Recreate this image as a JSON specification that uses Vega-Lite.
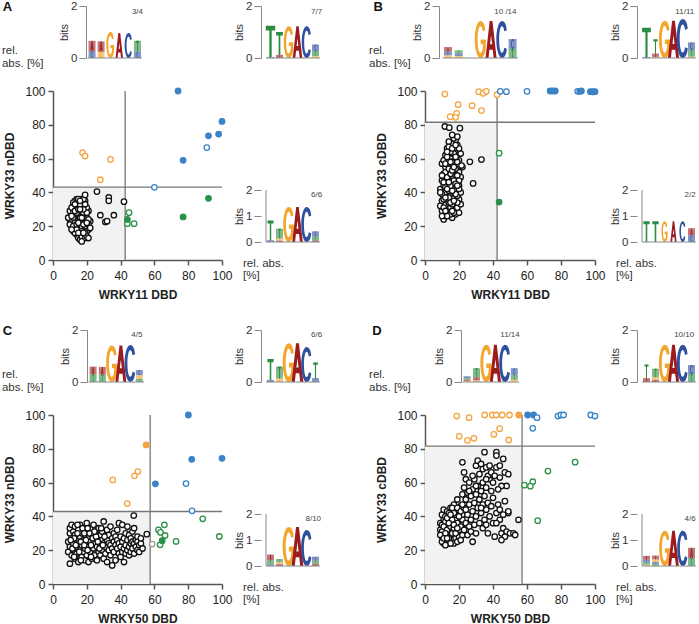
{
"$schema":"https://vega.github.io/schema/vega-lite/v6.json",
"padding":{"left":1,"top":0,"right":0,"bottom":0},
"columns":7,
"spacing":{"row":33,"column":0},
"bounds":"flush",
"align":"each",
"config":{"font":"Liberation Sans","view":{"stroke":null},
 "axis":{"grid":false,"labelFlush":false,"labelOverlap":false,"labelBound":false,"tickSize":5,"labelPadding":3,"domainColor":"#555","domainWidth":1.5,"tickColor":"#555","tickWidth":1.5,"labelFontSize":12,"labelColor":"#222","titleFontSize":12,"titleFontWeight":"bold","titleColor":"#222","titlePadding":8}},
"datasets":{
"LA1":[{"p":1,"n":"A","b":0.4},{"p":1,"n":"C","b":0.26},{"p":2,"n":"A","b":0.4},{"p":2,"n":"G","b":0.24},{"p":3,"n":"G","b":1.0},{"p":4,"n":"A","b":0.96},{"p":5,"n":"C","b":0.96},{"p":6,"n":"T","b":0.42},{"p":6,"n":"C","b":0.24}],
"LA2":[{"p":1,"n":"T","b":1.2},{"p":1,"n":"C","b":0.04},{"p":2,"n":"T","b":0.88},{"p":2,"n":"A","b":0.12},{"p":3,"n":"G","b":1.22},{"p":4,"n":"A","b":1.22},{"p":5,"n":"C","b":1.22},{"p":6,"n":"C","b":0.25},{"p":6,"n":"T","b":0.2},{"p":6,"n":"G","b":0.07}],
"LA3":[{"p":1,"n":"T","b":0.76},{"p":1,"n":"C","b":0.07},{"p":2,"n":"T","b":0.38},{"p":2,"n":"G","b":0.08},{"p":2,"n":"A","b":0.05},{"p":3,"n":"G","b":1.35},{"p":4,"n":"A","b":1.35},{"p":5,"n":"C","b":1.35},{"p":6,"n":"C","b":0.2},{"p":6,"n":"T","b":0.15},{"p":6,"n":"A","b":0.06}],
"LB1":[{"p":1,"n":"A","b":0.18},{"p":1,"n":"C","b":0.14},{"p":1,"n":"G","b":0.1},{"p":2,"n":"T","b":0.12},{"p":2,"n":"C","b":0.1},{"p":2,"n":"G","b":0.08},{"p":4,"n":"G","b":1.42},{"p":5,"n":"A","b":1.42},{"p":6,"n":"C","b":1.42},{"p":7,"n":"C","b":0.38},{"p":7,"n":"T","b":0.35}],
"LB2":[{"p":1,"n":"T","b":1.12},{"p":1,"n":"C","b":0.04},{"p":2,"n":"T","b":0.55},{"p":2,"n":"A","b":0.13},{"p":2,"n":"G","b":0.04},{"p":3,"n":"G","b":1.43},{"p":4,"n":"A","b":1.43},{"p":5,"n":"C","b":1.5},{"p":6,"n":"C","b":0.3},{"p":6,"n":"T","b":0.25},{"p":6,"n":"G","b":0.05}],
"LB3":[{"p":1,"n":"T","b":0.8},{"p":2,"n":"T","b":0.8},{"p":3,"n":"G","b":0.8},{"p":4,"n":"A","b":0.8},{"p":5,"n":"C","b":0.8},{"p":6,"n":"A","b":0.27},{"p":6,"n":"C","b":0.26}],
"LC1":[{"p":1,"n":"A","b":0.3},{"p":1,"n":"T","b":0.29},{"p":2,"n":"A","b":0.3},{"p":2,"n":"T","b":0.28},{"p":3,"n":"G","b":1.4},{"p":4,"n":"A","b":1.4},{"p":5,"n":"C","b":1.42},{"p":6,"n":"C","b":0.2},{"p":6,"n":"G","b":0.14},{"p":6,"n":"T","b":0.12}],
"LC2":[{"p":1,"n":"T","b":0.8},{"p":1,"n":"C","b":0.08},{"p":2,"n":"T","b":0.46},{"p":2,"n":"G","b":0.13},{"p":3,"n":"G","b":1.49},{"p":4,"n":"A","b":1.49},{"p":5,"n":"C","b":1.35},{"p":6,"n":"T","b":0.6},{"p":6,"n":"C","b":0.15}],
"LC3":[{"p":1,"n":"A","b":0.22},{"p":1,"n":"T","b":0.16},{"p":1,"n":"C","b":0.06},{"p":2,"n":"T","b":0.12},{"p":2,"n":"G","b":0.08},{"p":2,"n":"A","b":0.07},{"p":3,"n":"G","b":1.5},{"p":4,"n":"A","b":1.5},{"p":5,"n":"C","b":1.38},{"p":6,"n":"C","b":0.16},{"p":6,"n":"T","b":0.12},{"p":6,"n":"A","b":0.08}],
"LD1":[{"p":1,"n":"C","b":0.07},{"p":1,"n":"T","b":0.06},{"p":1,"n":"A","b":0.05},{"p":1,"n":"G","b":0.04},{"p":2,"n":"T","b":0.35},{"p":2,"n":"A","b":0.12},{"p":2,"n":"G","b":0.06},{"p":3,"n":"G","b":1.43},{"p":4,"n":"A","b":1.43},{"p":5,"n":"C","b":1.43},{"p":6,"n":"C","b":0.25},{"p":6,"n":"T","b":0.2},{"p":6,"n":"G","b":0.08}],
"LD2":[{"p":1,"n":"T","b":0.52},{"p":1,"n":"A","b":0.15},{"p":2,"n":"T","b":0.33},{"p":2,"n":"G","b":0.1},{"p":2,"n":"A","b":0.08},{"p":3,"n":"G","b":1.43},{"p":4,"n":"A","b":1.43},{"p":5,"n":"C","b":1.43},{"p":6,"n":"C","b":0.35},{"p":6,"n":"T","b":0.3}],
"LD3":[{"p":1,"n":"A","b":0.15},{"p":1,"n":"C","b":0.1},{"p":1,"n":"T","b":0.09},{"p":1,"n":"G","b":0.05},{"p":2,"n":"A","b":0.15},{"p":2,"n":"G","b":0.1},{"p":2,"n":"C","b":0.08},{"p":2,"n":"T","b":0.07},{"p":3,"n":"G","b":1.36},{"p":4,"n":"A","b":1.36},{"p":5,"n":"C","b":1.36},{"p":6,"n":"A","b":0.4},{"p":6,"n":"T","b":0.3}],
"Ak":[{"x":10,"y":24},{"x":11,"y":27},{"x":12,"y":22},{"x":13,"y":30},{"x":14,"y":25},{"x":15,"y":19},{"x":16,"y":28},{"x":17,"y":23},{"x":18,"y":33},{"x":19,"y":26},{"x":20,"y":21},{"x":21,"y":29},{"x":12,"y":17},{"x":13,"y":35},{"x":14,"y":31},{"x":15,"y":24},{"x":16,"y":20},{"x":17,"y":36},{"x":18,"y":18},{"x":19,"y":30},{"x":20,"y":25},{"x":11,"y":20},{"x":12,"y":32},{"x":13,"y":26},{"x":14,"y":15},{"x":15,"y":33},{"x":16,"y":23},{"x":17,"y":27},{"x":18,"y":14},{"x":19,"y":22},{"x":20,"y":31},{"x":21,"y":18},{"x":10,"y":29},{"x":11,"y":23},{"x":12,"y":28},{"x":13,"y":19},{"x":14,"y":34},{"x":15,"y":27},{"x":16,"y":16},{"x":17,"y":31},{"x":18,"y":25},{"x":19,"y":35},{"x":20,"y":17},{"x":22,"y":23},{"x":9,"y":25},{"x":11,"y":31},{"x":12,"y":25},{"x":13,"y":22},{"x":14,"y":28},{"x":15,"y":13},{"x":16,"y":33},{"x":17,"y":20},{"x":18,"y":28},{"x":19,"y":16},{"x":20,"y":28},{"x":21,"y":24},{"x":10,"y":21},{"x":12,"y":20},{"x":13,"y":29},{"x":14,"y":21},{"x":15,"y":30},{"x":16,"y":25},{"x":17,"y":17},{"x":18,"y":30},{"x":19,"y":20},{"x":21,"y":21},{"x":11,"y":26},{"x":13,"y":16},{"x":14,"y":36},{"x":15,"y":22},{"x":16,"y":30},{"x":17,"y":25},{"x":18,"y":21},{"x":19,"y":33},{"x":20,"y":22},{"x":22,"y":19},{"x":12,"y":34},{"x":14,"y":18},{"x":16,"y":12},{"x":17,"y":14},{"x":18,"y":36},{"x":15,"y":36},{"x":13,"y":33},{"x":16,"y":35},{"x":19,"y":13},{"x":20,"y":14},{"x":21,"y":13},{"x":17,"y":11},{"x":19,"y":38.5},{"x":11,"y":18},{"x":15,"y":16},{"x":18,"y":16},{"x":26,"y":40.5},{"x":33,"y":37},{"x":33,"y":35},{"x":42,"y":34.5},{"x":28,"y":26.5},{"x":36,"y":26.5},{"x":31,"y":22.5},{"x":32,"y":23}],
"Ac":[{"x":74,"y":100,"g":"b","s":true},{"x":77,"y":59,"g":"b","s":true},{"x":92,"y":73.5,"g":"b","s":true},{"x":98,"y":74.5,"g":"b","s":true},{"x":100,"y":82,"g":"b","s":true},{"x":91,"y":66.5,"g":"b","s":false},{"x":60,"y":43,"g":"b","s":false},{"x":45,"y":28,"g":"x","s":false},{"x":44,"y":21.5,"g":"x","s":false},{"x":48,"y":21.5,"g":"x","s":false},{"x":44,"y":24,"g":"x","s":true},{"x":77,"y":25.5,"g":"x","s":true},{"x":92,"y":36.5,"g":"x","s":true},{"x":17.5,"y":63.5,"g":"y","s":false},{"x":19,"y":61.5,"g":"y","s":false},{"x":34,"y":59.5,"g":"y","s":false},{"x":28,"y":47.5,"g":"y","s":false}],
"Bk":[{"x":11,"y":24},{"x":12,"y":26},{"x":16,"y":25},{"x":18,"y":27},{"x":14,"y":28},{"x":10,"y":29},{"x":20,"y":28},{"x":13,"y":30},{"x":17,"y":30},{"x":15,"y":31},{"x":9,"y":32},{"x":19,"y":31},{"x":12,"y":33},{"x":16,"y":33},{"x":21,"y":33},{"x":14,"y":34},{"x":18,"y":35},{"x":10,"y":35},{"x":20,"y":36},{"x":13,"y":36},{"x":16,"y":37},{"x":11,"y":38},{"x":19,"y":38},{"x":15,"y":39},{"x":17,"y":40},{"x":12,"y":40},{"x":21,"y":40},{"x":14,"y":41},{"x":9,"y":42},{"x":18,"y":42},{"x":16,"y":43},{"x":11,"y":44},{"x":20,"y":44},{"x":13,"y":45},{"x":17,"y":45},{"x":15,"y":46},{"x":19,"y":47},{"x":10,"y":47},{"x":12,"y":48},{"x":16,"y":49},{"x":21,"y":49},{"x":14,"y":50},{"x":18,"y":50},{"x":11,"y":51},{"x":20,"y":52},{"x":13,"y":52},{"x":17,"y":53},{"x":15,"y":54},{"x":19,"y":55},{"x":12,"y":55},{"x":22,"y":55},{"x":16,"y":56},{"x":14,"y":57},{"x":18,"y":58},{"x":10,"y":57},{"x":20,"y":59},{"x":13,"y":59},{"x":17,"y":60},{"x":15,"y":61},{"x":19,"y":62},{"x":12,"y":62},{"x":16,"y":63},{"x":21,"y":63},{"x":14,"y":64},{"x":18,"y":65},{"x":17,"y":66},{"x":13,"y":66},{"x":15,"y":67},{"x":19,"y":68},{"x":16,"y":69},{"x":14,"y":70},{"x":18,"y":71},{"x":17,"y":72},{"x":19,"y":73},{"x":16,"y":74},{"x":20.5,"y":78},{"x":11.7,"y":79},{"x":14.3,"y":78.3},{"x":11,"y":36},{"x":15,"y":27},{"x":13,"y":26},{"x":17,"y":28},{"x":19,"y":34},{"x":10,"y":39},{"x":14,"y":37},{"x":18,"y":39},{"x":12,"y":43},{"x":16,"y":41},{"x":20,"y":42},{"x":15,"y":44},{"x":11,"y":46},{"x":17,"y":47},{"x":13,"y":49},{"x":19,"y":50},{"x":15,"y":51},{"x":12,"y":52},{"x":18,"y":54},{"x":14,"y":54},{"x":16,"y":58},{"x":11,"y":59},{"x":19,"y":58},{"x":13,"y":61},{"x":17,"y":63},{"x":15,"y":64},{"x":18,"y":61},{"x":14,"y":67},{"x":20,"y":66},{"x":16,"y":66},{"x":18,"y":68},{"x":13,"y":64},{"x":12,"y":57},{"x":10,"y":50},{"x":9,"y":40},{"x":11,"y":31},{"x":15,"y":34},{"x":17,"y":35},{"x":13,"y":42},{"x":20,"y":47},{"x":16,"y":53},{"x":14,"y":46},{"x":18,"y":45},{"x":12,"y":37},{"x":10,"y":26},{"x":15,"y":58},{"x":17,"y":55},{"x":19,"y":44},{"x":16,"y":29},{"x":12,"y":29},{"x":26.4,"y":58.1},{"x":33.2,"y":59.4},{"x":28.3,"y":45.3},{"x":21.5,"y":55.9}],
"Bc":[{"x":11.7,"y":98.2,"g":"y","s":false},{"x":19.5,"y":91.9,"g":"y","s":false},{"x":18.6,"y":86.8,"g":"y","s":false},{"x":14.8,"y":84.8,"g":"y","s":false},{"x":18,"y":84.4,"g":"y","s":false},{"x":27.7,"y":91.3,"g":"y","s":false},{"x":33.2,"y":88.4,"g":"y","s":false},{"x":31.6,"y":99.6,"g":"y","s":false},{"x":34.2,"y":98.6,"g":"y","s":false},{"x":36.1,"y":99.8,"g":"y","s":false},{"x":42.4,"y":97.8,"g":"y","s":false},{"x":44.3,"y":99.8,"g":"b","s":false},{"x":47.9,"y":99.6,"g":"b","s":false},{"x":60,"y":99.8,"g":"b","s":false},{"x":89.8,"y":99.8,"g":"b","s":false},{"x":98.5,"y":99.5,"g":"b","s":false},{"x":73.6,"y":100,"g":"b","s":true},{"x":75.2,"y":100,"g":"b","s":true},{"x":76.6,"y":100,"g":"b","s":true},{"x":91,"y":99.8,"g":"b","s":true},{"x":92,"y":100,"g":"b","s":true},{"x":97.3,"y":99.6,"g":"b","s":true},{"x":99,"y":99.5,"g":"b","s":true},{"x":100,"y":99.6,"g":"b","s":true},{"x":43.6,"y":63.2,"g":"x","s":false},{"x":43.6,"y":34.3,"g":"x","s":true}],
"Ck":[{"x":9,"y":19},{"x":9,"y":25},{"x":10,"y":12},{"x":10,"y":22},{"x":10,"y":30},{"x":10,"y":33},{"x":11,"y":17},{"x":11,"y":27},{"x":11,"y":35},{"x":12,"y":20},{"x":12,"y":24},{"x":12,"y":31},{"x":13,"y":15},{"x":13,"y":29},{"x":13,"y":34},{"x":14,"y":22},{"x":14,"y":26},{"x":14,"y":18},{"x":15,"y":32},{"x":15,"y":13},{"x":15,"y":24},{"x":16,"y":28},{"x":16,"y":20},{"x":16,"y":35},{"x":17,"y":16},{"x":17,"y":23},{"x":17,"y":30},{"x":18,"y":26},{"x":18,"y":33},{"x":18,"y":19},{"x":19,"y":14},{"x":19,"y":21},{"x":19,"y":29},{"x":20,"y":24},{"x":20,"y":36},{"x":20,"y":17},{"x":20,"y":31},{"x":21,"y":27},{"x":21,"y":13},{"x":21,"y":22},{"x":22,"y":19},{"x":22,"y":33},{"x":22,"y":25},{"x":23,"y":29},{"x":23,"y":15},{"x":23,"y":22},{"x":24,"y":21},{"x":24,"y":26},{"x":24,"y":35},{"x":25,"y":18},{"x":25,"y":31},{"x":25,"y":24},{"x":26,"y":14},{"x":26,"y":28},{"x":26,"y":22},{"x":27,"y":25},{"x":27,"y":33},{"x":27,"y":19},{"x":28,"y":17},{"x":28,"y":23},{"x":28,"y":29},{"x":29,"y":31},{"x":29,"y":20},{"x":29,"y":26},{"x":30,"y":15},{"x":30,"y":24},{"x":30,"y":37},{"x":31,"y":22},{"x":31,"y":28},{"x":31,"y":18},{"x":32,"y":26},{"x":32,"y":13},{"x":32,"y":32},{"x":33,"y":20},{"x":33,"y":29},{"x":33,"y":24},{"x":34,"y":17},{"x":34,"y":23},{"x":34,"y":34},{"x":35,"y":27},{"x":35,"y":11},{"x":35,"y":21},{"x":36,"y":30},{"x":36,"y":19},{"x":36,"y":25},{"x":37,"y":14},{"x":37,"y":23},{"x":37,"y":28},{"x":38,"y":21},{"x":38,"y":32},{"x":38,"y":26},{"x":39,"y":18},{"x":39,"y":24},{"x":39,"y":36},{"x":40,"y":22},{"x":40,"y":28},{"x":40,"y":16},{"x":41,"y":25},{"x":41,"y":35},{"x":41,"y":19},{"x":42,"y":13},{"x":42,"y":27},{"x":42,"y":21},{"x":43,"y":23},{"x":43,"y":30},{"x":43,"y":18},{"x":44,"y":26},{"x":44,"y":20},{"x":44,"y":34},{"x":45,"y":22},{"x":45,"y":17},{"x":45,"y":29},{"x":46,"y":24},{"x":46,"y":27},{"x":46,"y":19},{"x":47,"y":21},{"x":47,"y":31},{"x":47,"y":25},{"x":47.8,"y":40.5},{"x":48,"y":18},{"x":48,"y":24},{"x":48,"y":33},{"x":49,"y":26},{"x":49,"y":22},{"x":50,"y":20},{"x":50,"y":25},{"x":50,"y":28},{"x":51,"y":23},{"x":51,"y":19},{"x":52,"y":24},{"x":52,"y":27},{"x":53,"y":21},{"x":55.5,"y":29.5},{"x":11.5,"y":21},{"x":12.5,"y":27},{"x":13.5,"y":23},{"x":14.5,"y":30},{"x":15.5,"y":19},{"x":16.5,"y":25},{"x":17.5,"y":33},{"x":18.5,"y":23},{"x":19.5,"y":26},{"x":20.5,"y":20},{"x":21.5,"y":30},{"x":22.5,"y":23},{"x":23.5,"y":27},{"x":24.5,"y":17},{"x":25.5,"y":28},{"x":26.5,"y":25},{"x":27.5,"y":21},{"x":28.5,"y":33},{"x":29.5,"y":23},{"x":30.5,"y":28},{"x":10.5,"y":26},{"x":12.5,"y":16},{"x":14.5,"y":35},{"x":16.5,"y":14},{"x":18.5,"y":30},{"x":20.5,"y":33},{"x":22.5,"y":16},{"x":24.5,"y":31}],
"Cc":[{"x":80.1,"y":100,"g":"b","s":true},{"x":82.1,"y":73.8,"g":"b","s":true},{"x":100,"y":74.4,"g":"b","s":true},{"x":60.6,"y":59.3,"g":"b","s":true},{"x":78.7,"y":59.4,"g":"b","s":false},{"x":82.3,"y":43.3,"g":"b","s":false},{"x":55.1,"y":82.3,"g":"y","s":true},{"x":35.4,"y":61.6,"g":"y","s":false},{"x":48.2,"y":64,"g":"y","s":false},{"x":50.2,"y":66.5,"g":"y","s":false},{"x":43.9,"y":47.6,"g":"y","s":false},{"x":88.6,"y":38.6,"g":"x","s":false},{"x":98.4,"y":28.1,"g":"x","s":false},{"x":72.8,"y":25.2,"g":"x","s":false},{"x":65.9,"y":35,"g":"x","s":false},{"x":62.4,"y":32,"g":"x","s":false},{"x":63.6,"y":30.5,"g":"x","s":false},{"x":66.3,"y":28.7,"g":"x","s":false},{"x":63.4,"y":23.2,"g":"x","s":false},{"x":64.6,"y":25.6,"g":"x","s":true},{"x":58.7,"y":23.6,"g":"n","s":false}],
"Dk":[{"x":9,"y":32},{"x":9,"y":36},{"x":10,"y":28},{"x":10,"y":35},{"x":10,"y":41},{"x":11,"y":24},{"x":11,"y":30},{"x":11,"y":38},{"x":11,"y":44},{"x":12,"y":27},{"x":12,"y":33},{"x":12,"y":40},{"x":13,"y":25},{"x":13,"y":29},{"x":13,"y":36},{"x":13,"y":43},{"x":14,"y":31},{"x":14,"y":34},{"x":14,"y":39},{"x":14,"y":24},{"x":15,"y":27},{"x":15,"y":37},{"x":15,"y":45},{"x":15,"y":30},{"x":16,"y":26},{"x":16,"y":33},{"x":16,"y":41},{"x":16,"y":36},{"x":17,"y":29},{"x":17,"y":24},{"x":17,"y":38},{"x":17,"y":47},{"x":18,"y":32},{"x":18,"y":27},{"x":18,"y":44},{"x":18,"y":35},{"x":19,"y":30},{"x":19,"y":40},{"x":19,"y":25},{"x":19,"y":50},{"x":20,"y":34},{"x":20,"y":28},{"x":20,"y":43},{"x":20,"y":37},{"x":21,"y":31},{"x":21,"y":26},{"x":21,"y":46},{"x":21,"y":39},{"x":22,"y":35},{"x":22,"y":29},{"x":22,"y":41},{"x":22,"y":53},{"x":10,"y":31},{"x":12,"y":37},{"x":14,"y":27},{"x":16,"y":30},{"x":18,"y":38},{"x":20,"y":32},{"x":11,"y":34},{"x":13,"y":32},{"x":15,"y":34},{"x":17,"y":33},{"x":19,"y":36},{"x":21,"y":34},{"x":9,"y":29},{"x":12,"y":30},{"x":14,"y":42},{"x":16,"y":45},{"x":18,"y":41},{"x":10,"y":25},{"x":13,"y":39},{"x":15,"y":24},{"x":17,"y":42},{"x":19,"y":45},{"x":22,"y":38},{"x":11,"y":27},{"x":16,"y":38},{"x":20,"y":40},{"x":12,"y":23},{"x":14,"y":36},{"x":18,"y":30},{"x":15,"y":41},{"x":17,"y":35},{"x":21,"y":43},{"x":13,"y":27},{"x":19,"y":33},{"x":23,"y":32},{"x":23,"y":45},{"x":23,"y":57},{"x":24,"y":36},{"x":24,"y":50},{"x":24,"y":62},{"x":25,"y":29},{"x":25,"y":41},{"x":25,"y":54},{"x":26,"y":34},{"x":26,"y":47},{"x":26,"y":60},{"x":27,"y":38},{"x":27,"y":52},{"x":27,"y":31},{"x":28,"y":43},{"x":28,"y":56},{"x":28,"y":25},{"x":29,"y":35},{"x":29,"y":48},{"x":29,"y":62},{"x":30,"y":40},{"x":30,"y":53},{"x":30,"y":30},{"x":31,"y":45},{"x":31,"y":58},{"x":32,"y":36},{"x":32,"y":50},{"x":32,"y":65},{"x":33,"y":42},{"x":33,"y":55},{"x":34,"y":33},{"x":34,"y":47},{"x":34,"y":60},{"x":35,"y":38},{"x":35,"y":52},{"x":36,"y":44},{"x":36,"y":57},{"x":37,"y":30},{"x":37,"y":48},{"x":38,"y":40},{"x":38,"y":62},{"x":39,"y":46},{"x":39,"y":55},{"x":40,"y":36},{"x":40,"y":51},{"x":26,"y":55},{"x":24,"y":44},{"x":22,"y":47},{"x":30,"y":58},{"x":33,"y":45},{"x":36,"y":35},{"x":22,"y":72},{"x":23,"y":66},{"x":28,"y":64},{"x":30,"y":70},{"x":31,"y":73},{"x":33,"y":71},{"x":34,"y":68},{"x":35,"y":78},{"x":36,"y":69},{"x":37,"y":64},{"x":39,"y":66},{"x":42,"y":78},{"x":42,"y":76},{"x":44,"y":63},{"x":46,"y":74},{"x":47,"y":66},{"x":48,"y":58},{"x":49,"y":65},{"x":42,"y":69},{"x":38,"y":70},{"x":44,"y":70},{"x":45,"y":58},{"x":40,"y":60},{"x":43,"y":56},{"x":41,"y":64},{"x":36,"y":62},{"x":41,"y":28},{"x":42,"y":42},{"x":43,"y":47},{"x":44,"y":38},{"x":45,"y":30},{"x":46,"y":33},{"x":47,"y":28},{"x":48,"y":31},{"x":49,"y":42},{"x":50,"y":30},{"x":52,"y":30},{"x":53,"y":29},{"x":55,"y":38},{"x":44,"y":44},{"x":46,"y":41},{"x":47,"y":49},{"x":42,"y":36},{"x":49,"y":43},{"x":45,"y":26}],
"Dc":[{"x":18.7,"y":99.4,"g":"y","s":false},{"x":25.9,"y":98.4,"g":"y","s":false},{"x":35.1,"y":100,"g":"y","s":false},{"x":39.6,"y":100,"g":"y","s":false},{"x":41.9,"y":100,"g":"y","s":false},{"x":45.4,"y":100,"g":"y","s":false},{"x":49.7,"y":100,"g":"y","s":false},{"x":20.1,"y":87.4,"g":"y","s":false},{"x":25,"y":85,"g":"y","s":false},{"x":28.8,"y":86.2,"g":"y","s":false},{"x":40.5,"y":88.5,"g":"y","s":false},{"x":43.9,"y":91.9,"g":"y","s":false},{"x":49.3,"y":85.2,"g":"y","s":false},{"x":55.2,"y":100,"g":"y","s":true},{"x":60.4,"y":100,"g":"b","s":true},{"x":63.9,"y":100,"g":"b","s":true},{"x":65.9,"y":98.4,"g":"b","s":false},{"x":63.4,"y":92.1,"g":"b","s":false},{"x":78.2,"y":99.4,"g":"b","s":false},{"x":79.9,"y":100,"g":"b","s":false},{"x":81.5,"y":100,"g":"b","s":false},{"x":97.5,"y":100,"g":"b","s":false},{"x":100,"y":99.4,"g":"b","s":false},{"x":88.3,"y":72.1,"g":"x","s":false},{"x":72.3,"y":66.8,"g":"x","s":false},{"x":58.5,"y":58.5,"g":"x","s":false},{"x":63.4,"y":60.5,"g":"x","s":false},{"x":62,"y":57.9,"g":"x","s":false},{"x":66.3,"y":37.5,"g":"x","s":false}]
},
"concat":[
{"width":94,"height":52,"layer":[
 {"data":{"name":"LA1"},"mark":{"type":"point","filled":true,"opacity":1,"strokeWidth":0},"encoding":{"x":{"field":"p","type":"quantitative","scale":{"domain":[-2.745,6.5],"nice":false,"zero":false},"axis":null},"y":{"field":"b","type":"quantitative","stack":"zero","scale":{"domain":[0,2],"nice":false},"axis":{"title":"bits","values":[0,1,2],"tickCount":10,"format":"d","labelOverlap":false,"offset":-33,"tickSize":7,"labelPadding":2,"domainColor":"#888","domainWidth":1,"tickColor":"#888","tickWidth":1,"labelFontSize":11.5,"labelColor":"#333","titleFontSize":11,"titleFontWeight":"normal","titleColor":"#333","titlePadding":1}},"order":{"field":"b","type":"quantitative","sort":"ascending"},"shape":{"field":"n","type":"nominal","scale":{"domain":["A","C","G","T"],"range":["M-0.075,0H0.075L0.3,2H0.14L0.09,1.55H-0.09L-0.14,2H-0.3ZM-0.055,1.25L0.055,1.25L0,0.76Z","M0.27,0.5C0.24,0.15,0.14,0,0,0C-0.16,0,-0.3,0.45,-0.3,1C-0.3,1.55,-0.16,2,0,2C0.14,2,0.24,1.85,0.27,1.5L0.13,1.45C0.11,1.63,0.06,1.72,0,1.72C-0.08,1.72,-0.145,1.4,-0.145,1C-0.145,0.6,-0.08,0.28,0,0.28C0.06,0.28,0.11,0.37,0.13,0.55Z","M0.27,0.5C0.24,0.15,0.14,0,0,0C-0.16,0,-0.3,0.45,-0.3,1C-0.3,1.55,-0.16,2,0,2C0.18,2,0.3,1.75,0.3,1.35V1H0.02V1.25H0.145C0.145,1.55,0.08,1.72,0,1.72C-0.08,1.72,-0.145,1.4,-0.145,1C-0.145,0.6,-0.08,0.28,0,0.28C0.06,0.28,0.11,0.37,0.13,0.55Z","M-0.3,0H0.3V0.3H0.075V2H-0.075V0.3H-0.3Z"]},"legend":null},"color":{"field":"n","type":"nominal","scale":{"domain":["A","C","G","T"],"range":["#9b1b1f","#2f4f9f","#f4a52c","#2b8c3f"]},"legend":null},"size":{"field":"b","type":"quantitative","scale":{"type":"pow","exponent":2,"domain":[0,2],"range":[0,2704]},"legend":null}}},
 {"data":{"name":"LA1"},"mark":{"type":"bar","width":7},"encoding":{"x":{"field":"p","type":"quantitative","axis":null},"y":{"field":"b","type":"quantitative","stack":"zero"},"order":{"field":"b","type":"quantitative","sort":"ascending"},"color":{"field":"n","type":"nominal","legend":null},"opacity":{"condition":{"test":"datum.b < 0.5","value":0.6},"value":0}}},
 {"data":{"values":[{}]},"mark":{"type":"rule","color":"#888","strokeWidth":1},"encoding":{"x":{"datum":0.5,"axis":null},"x2":{"datum":6.5},"y":{"datum":0}}},
 {"data":{"values":[{}]},"mark":{"type":"text","fontSize":8,"color":"#444"},"encoding":{"x":{"datum":6.0,"axis":null},"y":{"datum":1.77},"text":{"value":"3/4"}}}
]},
{"width":39,"height":1,"mark":"point","data":{"values":[]}},
{"width":64,"height":52,"layer":[
 {"data":{"name":"LA2"},"mark":{"type":"point","filled":true,"opacity":1,"strokeWidth":0},"encoding":{"x":{"field":"p","type":"quantitative","scale":{"domain":[0.5,6.5],"nice":false,"zero":false},"axis":null},"y":{"field":"b","type":"quantitative","stack":"zero","scale":{"domain":[0,2],"nice":false},"axis":{"title":"bits","values":[0,1,2],"tickCount":10,"format":"d","labelOverlap":false,"tickSize":7,"labelPadding":2,"domainColor":"#888","domainWidth":1,"tickColor":"#888","tickWidth":1,"labelFontSize":11.5,"labelColor":"#333","titleFontSize":11,"titleFontWeight":"normal","titleColor":"#333","titlePadding":1}},"order":{"field":"b","type":"quantitative","sort":"ascending"},"shape":{"field":"n","type":"nominal","scale":{"domain":["A","C","G","T"],"range":["M-0.075,0H0.075L0.3,2H0.14L0.09,1.55H-0.09L-0.14,2H-0.3ZM-0.055,1.25L0.055,1.25L0,0.76Z","M0.27,0.5C0.24,0.15,0.14,0,0,0C-0.16,0,-0.3,0.45,-0.3,1C-0.3,1.55,-0.16,2,0,2C0.14,2,0.24,1.85,0.27,1.5L0.13,1.45C0.11,1.63,0.06,1.72,0,1.72C-0.08,1.72,-0.145,1.4,-0.145,1C-0.145,0.6,-0.08,0.28,0,0.28C0.06,0.28,0.11,0.37,0.13,0.55Z","M0.27,0.5C0.24,0.15,0.14,0,0,0C-0.16,0,-0.3,0.45,-0.3,1C-0.3,1.55,-0.16,2,0,2C0.18,2,0.3,1.75,0.3,1.35V1H0.02V1.25H0.145C0.145,1.55,0.08,1.72,0,1.72C-0.08,1.72,-0.145,1.4,-0.145,1C-0.145,0.6,-0.08,0.28,0,0.28C0.06,0.28,0.11,0.37,0.13,0.55Z","M-0.3,0H0.3V0.3H0.075V2H-0.075V0.3H-0.3Z"]},"legend":null},"color":{"field":"n","type":"nominal","scale":{"domain":["A","C","G","T"],"range":["#9b1b1f","#2f4f9f","#f4a52c","#2b8c3f"]},"legend":null},"size":{"field":"b","type":"quantitative","scale":{"type":"pow","exponent":2,"domain":[0,2],"range":[0,2704]},"legend":null}}},
 {"data":{"name":"LA2"},"mark":{"type":"bar","width":7},"encoding":{"x":{"field":"p","type":"quantitative","axis":null},"y":{"field":"b","type":"quantitative","stack":"zero"},"order":{"field":"b","type":"quantitative","sort":"ascending"},"color":{"field":"n","type":"nominal","legend":null},"opacity":{"condition":{"test":"datum.b < 0.5","value":0.6},"value":0}}},
 {"data":{"values":[{}]},"mark":{"type":"rule","color":"#888","strokeWidth":1},"encoding":{"x":{"datum":0.5,"axis":null},"x2":{"datum":6.5},"y":{"datum":0}}},
 {"data":{"values":[{}]},"mark":{"type":"text","fontSize":8,"color":"#444"},"encoding":{"x":{"datum":6.12,"axis":null},"y":{"datum":1.77},"text":{"value":"7/7"}}}
]},
{"width":100,"height":1,"mark":"point","data":{"values":[]}},
{"width":98,"height":52,"layer":[
 {"data":{"name":"LB1"},"mark":{"type":"point","filled":true,"opacity":1,"strokeWidth":0},"encoding":{"x":{"field":"p","type":"quantitative","scale":{"domain":[-0.667,7.5],"nice":false,"zero":false},"axis":null},"y":{"field":"b","type":"quantitative","stack":"zero","scale":{"domain":[0,2],"nice":false},"axis":{"title":"bits","values":[0,1,2],"tickCount":10,"format":"d","labelOverlap":false,"offset":-14,"tickSize":7,"labelPadding":2,"domainColor":"#888","domainWidth":1,"tickColor":"#888","tickWidth":1,"labelFontSize":11.5,"labelColor":"#333","titleFontSize":11,"titleFontWeight":"normal","titleColor":"#333","titlePadding":1}},"order":{"field":"b","type":"quantitative","sort":"ascending"},"shape":{"field":"n","type":"nominal","scale":{"domain":["A","C","G","T"],"range":["M-0.075,0H0.075L0.3,2H0.14L0.09,1.55H-0.09L-0.14,2H-0.3ZM-0.055,1.25L0.055,1.25L0,0.76Z","M0.27,0.5C0.24,0.15,0.14,0,0,0C-0.16,0,-0.3,0.45,-0.3,1C-0.3,1.55,-0.16,2,0,2C0.14,2,0.24,1.85,0.27,1.5L0.13,1.45C0.11,1.63,0.06,1.72,0,1.72C-0.08,1.72,-0.145,1.4,-0.145,1C-0.145,0.6,-0.08,0.28,0,0.28C0.06,0.28,0.11,0.37,0.13,0.55Z","M0.27,0.5C0.24,0.15,0.14,0,0,0C-0.16,0,-0.3,0.45,-0.3,1C-0.3,1.55,-0.16,2,0,2C0.18,2,0.3,1.75,0.3,1.35V1H0.02V1.25H0.145C0.145,1.55,0.08,1.72,0,1.72C-0.08,1.72,-0.145,1.4,-0.145,1C-0.145,0.6,-0.08,0.28,0,0.28C0.06,0.28,0.11,0.37,0.13,0.55Z","M-0.3,0H0.3V0.3H0.075V2H-0.075V0.3H-0.3Z"]},"legend":null},"color":{"field":"n","type":"nominal","scale":{"domain":["A","C","G","T"],"range":["#9b1b1f","#2f4f9f","#f4a52c","#2b8c3f"]},"legend":null},"size":{"field":"b","type":"quantitative","scale":{"type":"pow","exponent":2,"domain":[0,2],"range":[0,2704]},"legend":null}}},
 {"data":{"name":"LB1"},"mark":{"type":"bar","width":8},"encoding":{"x":{"field":"p","type":"quantitative","axis":null},"y":{"field":"b","type":"quantitative","stack":"zero"},"order":{"field":"b","type":"quantitative","sort":"ascending"},"color":{"field":"n","type":"nominal","legend":null},"opacity":{"condition":{"test":"datum.b < 0.5","value":0.6},"value":0}}},
 {"data":{"values":[{}]},"mark":{"type":"rule","color":"#888","strokeWidth":1},"encoding":{"x":{"datum":0.5,"axis":null},"x2":{"datum":7.5},"y":{"datum":0}}},
 {"data":{"values":[{}]},"mark":{"type":"text","fontSize":8,"color":"#444"},"encoding":{"x":{"datum":6.33,"axis":null},"y":{"datum":1.77},"text":{"value":"10 /14"}}}
]},
{"width":42,"height":1,"mark":"point","data":{"values":[]}},
{"width":64,"height":52,"layer":[
 {"data":{"name":"LB2"},"mark":{"type":"point","filled":true,"opacity":1,"strokeWidth":0},"encoding":{"x":{"field":"p","type":"quantitative","scale":{"domain":[0.5,6.5],"nice":false,"zero":false},"axis":null},"y":{"field":"b","type":"quantitative","stack":"zero","scale":{"domain":[0,2],"nice":false},"axis":{"title":"bits","values":[0,1,2],"tickCount":10,"format":"d","labelOverlap":false,"tickSize":7,"labelPadding":2,"domainColor":"#888","domainWidth":1,"tickColor":"#888","tickWidth":1,"labelFontSize":11.5,"labelColor":"#333","titleFontSize":11,"titleFontWeight":"normal","titleColor":"#333","titlePadding":1}},"order":{"field":"b","type":"quantitative","sort":"ascending"},"shape":{"field":"n","type":"nominal","scale":{"domain":["A","C","G","T"],"range":["M-0.075,0H0.075L0.3,2H0.14L0.09,1.55H-0.09L-0.14,2H-0.3ZM-0.055,1.25L0.055,1.25L0,0.76Z","M0.27,0.5C0.24,0.15,0.14,0,0,0C-0.16,0,-0.3,0.45,-0.3,1C-0.3,1.55,-0.16,2,0,2C0.14,2,0.24,1.85,0.27,1.5L0.13,1.45C0.11,1.63,0.06,1.72,0,1.72C-0.08,1.72,-0.145,1.4,-0.145,1C-0.145,0.6,-0.08,0.28,0,0.28C0.06,0.28,0.11,0.37,0.13,0.55Z","M0.27,0.5C0.24,0.15,0.14,0,0,0C-0.16,0,-0.3,0.45,-0.3,1C-0.3,1.55,-0.16,2,0,2C0.18,2,0.3,1.75,0.3,1.35V1H0.02V1.25H0.145C0.145,1.55,0.08,1.72,0,1.72C-0.08,1.72,-0.145,1.4,-0.145,1C-0.145,0.6,-0.08,0.28,0,0.28C0.06,0.28,0.11,0.37,0.13,0.55Z","M-0.3,0H0.3V0.3H0.075V2H-0.075V0.3H-0.3Z"]},"legend":null},"color":{"field":"n","type":"nominal","scale":{"domain":["A","C","G","T"],"range":["#9b1b1f","#2f4f9f","#f4a52c","#2b8c3f"]},"legend":null},"size":{"field":"b","type":"quantitative","scale":{"type":"pow","exponent":2,"domain":[0,2],"range":[0,2704]},"legend":null}}},
 {"data":{"name":"LB2"},"mark":{"type":"bar","width":7},"encoding":{"x":{"field":"p","type":"quantitative","axis":null},"y":{"field":"b","type":"quantitative","stack":"zero"},"order":{"field":"b","type":"quantitative","sort":"ascending"},"color":{"field":"n","type":"nominal","legend":null},"opacity":{"condition":{"test":"datum.b < 0.5","value":0.6},"value":0}}},
 {"data":{"values":[{}]},"mark":{"type":"rule","color":"#888","strokeWidth":1},"encoding":{"x":{"datum":0.5,"axis":null},"x2":{"datum":6.5},"y":{"datum":0}}},
 {"data":{"values":[{}]},"mark":{"type":"text","fontSize":8,"color":"#444","align":"right"},"encoding":{"x":{"datum":6.3,"axis":null},"y":{"datum":1.77},"text":{"value":"11/11"}}}
]},
{"width":169,"height":169,"layer":[
 {"data":{"values":[{}]},"mark":{"type":"rect","color":"#f2f2f2"},"encoding":{"x":{"datum":0,"type":"quantitative","scale":{"domain":[0,100],"nice":false,"zero":false},"axis":{"title":"WRKY11 DBD","values":[0,20,40,60,80,100],"tickCount":10,"labelOverlap":false,"labelPadding":5}},"x2":{"datum":42.7},"y":{"datum":0,"type":"quantitative","scale":{"domain":[0,100],"nice":false,"zero":false},"axis":{"title":"WRKY33 nDBD","values":[0,20,40,60,80,100],"tickCount":10,"labelOverlap":false}},"y2":{"datum":43.1}}},
 {"data":{"values":[{}]},"mark":{"type":"rule","color":"#777","strokeWidth":1.3},"encoding":{"x":{"datum":42.7},"y":{"datum":0},"y2":{"datum":100}}},
 {"data":{"values":[{}]},"mark":{"type":"rule","color":"#777","strokeWidth":1.3},"encoding":{"y":{"datum":43.1},"x":{"datum":0},"x2":{"datum":100}}},
 {"data":{"name":"Ak"},"mark":{"type":"point","shape":"circle","size":30,"filled":true,"fill":"white","stroke":"#111","strokeWidth":1.3,"opacity":1},"encoding":{"x":{"field":"x","type":"quantitative"},"y":{"field":"y","type":"quantitative"}}},
 {"data":{"name":"Ac"},"mark":{"type":"point","shape":"circle","size":30,"filled":true,"strokeWidth":1.3,"opacity":1},"encoding":{"x":{"field":"x","type":"quantitative"},"y":{"field":"y","type":"quantitative"},"stroke":{"field":"g","type":"nominal","scale":{"domain":["b","x","y","n"],"range":["#3c82c8","#2a9148","#f4a340","#999999"]},"legend":null},"fill":{"condition":{"test":"datum.s","field":"g","type":"nominal","scale":{"domain":["b","x","y","n"],"range":["#3c82c8","#2a9148","#f4a340","#999999"]},"legend":null},"value":"white"}}},
 {"data":{"values":[{}]},"mark":{"type":"text","fontSize":13,"fontWeight":"bold","color":"#111"},"encoding":{"x":{"datum":-27},"y":{"datum":149.7},"text":{"value":"A"}}},
 {"data":{"values":[{}]},"mark":{"type":"text","fontSize":11.5,"color":"#333","align":"left"},"encoding":{"x":{"datum":-30.2},"y":{"datum":123.7},"text":{"value":"rel."}}},
 {"data":{"values":[{}]},"mark":{"type":"text","fontSize":11.5,"color":"#333","align":"left"},"encoding":{"x":{"datum":-30.2},"y":{"datum":116},"text":{"value":"abs. [%]"}}},
 {"data":{"values":[{}]},"mark":{"type":"text","fontSize":11.5,"color":"#333","align":"left"},"encoding":{"x":{"datum":112.4},"y":{"datum":-2.4},"text":{"value":"rel. abs."}}},
 {"data":{"values":[{}]},"mark":{"type":"text","fontSize":11.5,"color":"#333","align":"left"},"encoding":{"x":{"datum":112.4},"y":{"datum":-9.5},"text":{"value":"[%]"}}}
]},
{"width":39,"height":1,"mark":"point","data":{"values":[]}},
{"width":64,"height":151,"layer":[
 {"data":{"name":"LA3"},"mark":{"type":"point","filled":true,"opacity":1,"strokeWidth":0},"encoding":{"x":{"field":"p","type":"quantitative","scale":{"domain":[0.5,6.5],"nice":false,"zero":false},"axis":null},"y":{"field":"b","type":"quantitative","stack":"zero","scale":{"domain":[0,5.8077],"nice":false},"axis":{"title":"bits","values":[0,1,2],"tickCount":10,"format":"d","labelOverlap":false,"domain":false,"titleY":125,"tickSize":7,"labelPadding":2,"tickColor":"#888","tickWidth":1,"labelFontSize":11.5,"labelColor":"#333","titleFontSize":11,"titleFontWeight":"normal","titleColor":"#333","titlePadding":1}},"order":{"field":"b","type":"quantitative","sort":"ascending"},"shape":{"field":"n","type":"nominal","scale":{"domain":["A","C","G","T"],"range":["M-0.075,0H0.075L0.3,2H0.14L0.09,1.55H-0.09L-0.14,2H-0.3ZM-0.055,1.25L0.055,1.25L0,0.76Z","M0.27,0.5C0.24,0.15,0.14,0,0,0C-0.16,0,-0.3,0.45,-0.3,1C-0.3,1.55,-0.16,2,0,2C0.14,2,0.24,1.85,0.27,1.5L0.13,1.45C0.11,1.63,0.06,1.72,0,1.72C-0.08,1.72,-0.145,1.4,-0.145,1C-0.145,0.6,-0.08,0.28,0,0.28C0.06,0.28,0.11,0.37,0.13,0.55Z","M0.27,0.5C0.24,0.15,0.14,0,0,0C-0.16,0,-0.3,0.45,-0.3,1C-0.3,1.55,-0.16,2,0,2C0.18,2,0.3,1.75,0.3,1.35V1H0.02V1.25H0.145C0.145,1.55,0.08,1.72,0,1.72C-0.08,1.72,-0.145,1.4,-0.145,1C-0.145,0.6,-0.08,0.28,0,0.28C0.06,0.28,0.11,0.37,0.13,0.55Z","M-0.3,0H0.3V0.3H0.075V2H-0.075V0.3H-0.3Z"]},"legend":null},"color":{"field":"n","type":"nominal","scale":{"domain":["A","C","G","T"],"range":["#9b1b1f","#2f4f9f","#f4a52c","#2b8c3f"]},"legend":null},"size":{"field":"b","type":"quantitative","scale":{"type":"pow","exponent":2,"domain":[0,2],"range":[0,2704]},"legend":null}}},
 {"data":{"name":"LA3"},"mark":{"type":"bar","width":7},"encoding":{"x":{"field":"p","type":"quantitative","axis":null},"y":{"field":"b","type":"quantitative","stack":"zero"},"order":{"field":"b","type":"quantitative","sort":"ascending"},"color":{"field":"n","type":"nominal","legend":null},"opacity":{"condition":{"test":"datum.b < 0.5","value":0.6},"value":0}}},
 {"data":{"values":[{}]},"mark":{"type":"rule","color":"#888","strokeWidth":1},"encoding":{"x":{"datum":0.5,"axis":null},"x2":{"datum":6.5},"y":{"datum":0}}},
 {"data":{"values":[{}]},"mark":{"type":"rule","color":"#888","strokeWidth":1},"encoding":{"x":{"datum":0.5,"axis":null},"y":{"datum":0},"y2":{"datum":2}}},
 {"data":{"values":[{}]},"mark":{"type":"text","fontSize":8,"color":"#444"},"encoding":{"x":{"datum":6.12,"axis":null},"y":{"datum":1.8},"text":{"value":"6/6"}}}
]},
{"width":100,"height":1,"mark":"point","data":{"values":[]}},
{"width":170,"height":169,"layer":[
 {"data":{"values":[{}]},"mark":{"type":"rect","color":"#f2f2f2"},"encoding":{"x":{"datum":0,"type":"quantitative","scale":{"domain":[0,100],"nice":false,"zero":false},"axis":{"title":"WRKY11 DBD","values":[0,20,40,60,80,100],"tickCount":10,"labelOverlap":false,"labelPadding":5}},"x2":{"datum":42.4},"y":{"datum":0,"type":"quantitative","scale":{"domain":[0,100],"nice":false,"zero":false},"axis":{"title":"WRKY33 cDBD","values":[0,20,40,60,80,100],"tickCount":10,"labelOverlap":false}},"y2":{"datum":81.5}}},
 {"data":{"values":[{}]},"mark":{"type":"rule","color":"#777","strokeWidth":1.3},"encoding":{"x":{"datum":42.4},"y":{"datum":0},"y2":{"datum":100}}},
 {"data":{"values":[{}]},"mark":{"type":"rule","color":"#777","strokeWidth":1.3},"encoding":{"y":{"datum":81.5},"x":{"datum":0},"x2":{"datum":100}}},
 {"data":{"name":"Bk"},"mark":{"type":"point","shape":"circle","size":30,"filled":true,"fill":"white","stroke":"#111","strokeWidth":1.3,"opacity":1},"encoding":{"x":{"field":"x","type":"quantitative"},"y":{"field":"y","type":"quantitative"}}},
 {"data":{"name":"Bc"},"mark":{"type":"point","shape":"circle","size":30,"filled":true,"strokeWidth":1.3,"opacity":1},"encoding":{"x":{"field":"x","type":"quantitative"},"y":{"field":"y","type":"quantitative"},"stroke":{"field":"g","type":"nominal","scale":{"domain":["b","x","y","n"],"range":["#3c82c8","#2a9148","#f4a340","#999999"]},"legend":null},"fill":{"condition":{"test":"datum.s","field":"g","type":"nominal","scale":{"domain":["b","x","y","n"],"range":["#3c82c8","#2a9148","#f4a340","#999999"]},"legend":null},"value":"white"}}},
 {"data":{"values":[{}]},"mark":{"type":"text","fontSize":13,"fontWeight":"bold","color":"#111"},"encoding":{"x":{"datum":-27.6},"y":{"datum":149.7},"text":{"value":"B"}}},
 {"data":{"values":[{}]},"mark":{"type":"text","fontSize":11.5,"color":"#333","align":"left"},"encoding":{"x":{"datum":-32.9},"y":{"datum":123.7},"text":{"value":"rel."}}},
 {"data":{"values":[{}]},"mark":{"type":"text","fontSize":11.5,"color":"#333","align":"left"},"encoding":{"x":{"datum":-32.9},"y":{"datum":116},"text":{"value":"abs. [%]"}}},
 {"data":{"values":[{}]},"mark":{"type":"text","fontSize":11.5,"color":"#333","align":"left"},"encoding":{"x":{"datum":112.4},"y":{"datum":-2.4},"text":{"value":"rel. abs."}}},
 {"data":{"values":[{}]},"mark":{"type":"text","fontSize":11.5,"color":"#333","align":"left"},"encoding":{"x":{"datum":112.4},"y":{"datum":-9.5},"text":{"value":"[%]"}}}
]},
{"width":42,"height":1,"mark":"point","data":{"values":[]}},
{"width":64,"height":151,"layer":[
 {"data":{"name":"LB3"},"mark":{"type":"point","filled":true,"opacity":1,"strokeWidth":0},"encoding":{"x":{"field":"p","type":"quantitative","scale":{"domain":[0.5,6.5],"nice":false,"zero":false},"axis":null},"y":{"field":"b","type":"quantitative","stack":"zero","scale":{"domain":[0,5.8077],"nice":false},"axis":{"title":"bits","values":[0,1,2],"tickCount":10,"format":"d","labelOverlap":false,"domain":false,"titleY":125,"tickSize":7,"labelPadding":2,"tickColor":"#888","tickWidth":1,"labelFontSize":11.5,"labelColor":"#333","titleFontSize":11,"titleFontWeight":"normal","titleColor":"#333","titlePadding":1}},"order":{"field":"b","type":"quantitative","sort":"ascending"},"shape":{"field":"n","type":"nominal","scale":{"domain":["A","C","G","T"],"range":["M-0.075,0H0.075L0.3,2H0.14L0.09,1.55H-0.09L-0.14,2H-0.3ZM-0.055,1.25L0.055,1.25L0,0.76Z","M0.27,0.5C0.24,0.15,0.14,0,0,0C-0.16,0,-0.3,0.45,-0.3,1C-0.3,1.55,-0.16,2,0,2C0.14,2,0.24,1.85,0.27,1.5L0.13,1.45C0.11,1.63,0.06,1.72,0,1.72C-0.08,1.72,-0.145,1.4,-0.145,1C-0.145,0.6,-0.08,0.28,0,0.28C0.06,0.28,0.11,0.37,0.13,0.55Z","M0.27,0.5C0.24,0.15,0.14,0,0,0C-0.16,0,-0.3,0.45,-0.3,1C-0.3,1.55,-0.16,2,0,2C0.18,2,0.3,1.75,0.3,1.35V1H0.02V1.25H0.145C0.145,1.55,0.08,1.72,0,1.72C-0.08,1.72,-0.145,1.4,-0.145,1C-0.145,0.6,-0.08,0.28,0,0.28C0.06,0.28,0.11,0.37,0.13,0.55Z","M-0.3,0H0.3V0.3H0.075V2H-0.075V0.3H-0.3Z"]},"legend":null},"color":{"field":"n","type":"nominal","scale":{"domain":["A","C","G","T"],"range":["#9b1b1f","#2f4f9f","#f4a52c","#2b8c3f"]},"legend":null},"size":{"field":"b","type":"quantitative","scale":{"type":"pow","exponent":2,"domain":[0,2],"range":[0,2704]},"legend":null}}},
 {"data":{"name":"LB3"},"mark":{"type":"bar","width":7},"encoding":{"x":{"field":"p","type":"quantitative","axis":null},"y":{"field":"b","type":"quantitative","stack":"zero"},"order":{"field":"b","type":"quantitative","sort":"ascending"},"color":{"field":"n","type":"nominal","legend":null},"opacity":{"condition":{"test":"datum.b < 0.5","value":0.6},"value":0}}},
 {"data":{"values":[{}]},"mark":{"type":"rule","color":"#888","strokeWidth":1},"encoding":{"x":{"datum":0.5,"axis":null},"x2":{"datum":6.5},"y":{"datum":0}}},
 {"data":{"values":[{}]},"mark":{"type":"rule","color":"#888","strokeWidth":1},"encoding":{"x":{"datum":0.5,"axis":null},"y":{"datum":0},"y2":{"datum":2}}},
 {"data":{"values":[{}]},"mark":{"type":"text","fontSize":8,"color":"#444"},"encoding":{"x":{"datum":5.84,"axis":null},"y":{"datum":1.8},"text":{"value":"2/2"}}}
]},
{"width":1,"height":4,"mark":"point","data":{"values":[]}},
{"width":1,"height":4,"mark":"point","data":{"values":[]}},
{"width":1,"height":4,"mark":"point","data":{"values":[]}},
{"width":1,"height":4,"mark":"point","data":{"values":[]}},
{"width":1,"height":4,"mark":"point","data":{"values":[]}},
{"width":1,"height":4,"mark":"point","data":{"values":[]}},
{"width":1,"height":4,"mark":"point","data":{"values":[]}},
{"width":96,"height":52,"layer":[
 {"data":{"name":"LC1"},"mark":{"type":"point","filled":true,"opacity":1,"strokeWidth":0},"encoding":{"x":{"field":"p","type":"quantitative","scale":{"domain":[-2.79,6.5],"nice":false,"zero":false},"axis":null},"y":{"field":"b","type":"quantitative","stack":"zero","scale":{"domain":[0,2],"nice":false},"axis":{"title":"bits","values":[0,1,2],"tickCount":10,"format":"d","labelOverlap":false,"offset":-34,"tickSize":7,"labelPadding":2,"domainColor":"#888","domainWidth":1,"tickColor":"#888","tickWidth":1,"labelFontSize":11.5,"labelColor":"#333","titleFontSize":11,"titleFontWeight":"normal","titleColor":"#333","titlePadding":1}},"order":{"field":"b","type":"quantitative","sort":"ascending"},"shape":{"field":"n","type":"nominal","scale":{"domain":["A","C","G","T"],"range":["M-0.075,0H0.075L0.3,2H0.14L0.09,1.55H-0.09L-0.14,2H-0.3ZM-0.055,1.25L0.055,1.25L0,0.76Z","M0.27,0.5C0.24,0.15,0.14,0,0,0C-0.16,0,-0.3,0.45,-0.3,1C-0.3,1.55,-0.16,2,0,2C0.14,2,0.24,1.85,0.27,1.5L0.13,1.45C0.11,1.63,0.06,1.72,0,1.72C-0.08,1.72,-0.145,1.4,-0.145,1C-0.145,0.6,-0.08,0.28,0,0.28C0.06,0.28,0.11,0.37,0.13,0.55Z","M0.27,0.5C0.24,0.15,0.14,0,0,0C-0.16,0,-0.3,0.45,-0.3,1C-0.3,1.55,-0.16,2,0,2C0.18,2,0.3,1.75,0.3,1.35V1H0.02V1.25H0.145C0.145,1.55,0.08,1.72,0,1.72C-0.08,1.72,-0.145,1.4,-0.145,1C-0.145,0.6,-0.08,0.28,0,0.28C0.06,0.28,0.11,0.37,0.13,0.55Z","M-0.3,0H0.3V0.3H0.075V2H-0.075V0.3H-0.3Z"]},"legend":null},"color":{"field":"n","type":"nominal","scale":{"domain":["A","C","G","T"],"range":["#9b1b1f","#2f4f9f","#f4a52c","#2b8c3f"]},"legend":null},"size":{"field":"b","type":"quantitative","scale":{"type":"pow","exponent":2,"domain":[0,2],"range":[0,2704]},"legend":null}}},
 {"data":{"name":"LC1"},"mark":{"type":"bar","width":7},"encoding":{"x":{"field":"p","type":"quantitative","axis":null},"y":{"field":"b","type":"quantitative","stack":"zero"},"order":{"field":"b","type":"quantitative","sort":"ascending"},"color":{"field":"n","type":"nominal","legend":null},"opacity":{"condition":{"test":"datum.b < 0.5","value":0.6},"value":0}}},
 {"data":{"values":[{}]},"mark":{"type":"rule","color":"#888","strokeWidth":1},"encoding":{"x":{"datum":0.5,"axis":null},"x2":{"datum":6.5},"y":{"datum":0}}},
 {"data":{"values":[{}]},"mark":{"type":"text","fontSize":8,"color":"#444"},"encoding":{"x":{"datum":5.73,"axis":null},"y":{"datum":1.8},"text":{"value":"4/5"}}}
]},
{"width":39,"height":1,"mark":"point","data":{"values":[]}},
{"width":64,"height":52,"layer":[
 {"data":{"name":"LC2"},"mark":{"type":"point","filled":true,"opacity":1,"strokeWidth":0},"encoding":{"x":{"field":"p","type":"quantitative","scale":{"domain":[0.5,6.5],"nice":false,"zero":false},"axis":null},"y":{"field":"b","type":"quantitative","stack":"zero","scale":{"domain":[0,2],"nice":false},"axis":{"title":"bits","values":[0,1,2],"tickCount":10,"format":"d","labelOverlap":false,"tickSize":7,"labelPadding":2,"domainColor":"#888","domainWidth":1,"tickColor":"#888","tickWidth":1,"labelFontSize":11.5,"labelColor":"#333","titleFontSize":11,"titleFontWeight":"normal","titleColor":"#333","titlePadding":1}},"order":{"field":"b","type":"quantitative","sort":"ascending"},"shape":{"field":"n","type":"nominal","scale":{"domain":["A","C","G","T"],"range":["M-0.075,0H0.075L0.3,2H0.14L0.09,1.55H-0.09L-0.14,2H-0.3ZM-0.055,1.25L0.055,1.25L0,0.76Z","M0.27,0.5C0.24,0.15,0.14,0,0,0C-0.16,0,-0.3,0.45,-0.3,1C-0.3,1.55,-0.16,2,0,2C0.14,2,0.24,1.85,0.27,1.5L0.13,1.45C0.11,1.63,0.06,1.72,0,1.72C-0.08,1.72,-0.145,1.4,-0.145,1C-0.145,0.6,-0.08,0.28,0,0.28C0.06,0.28,0.11,0.37,0.13,0.55Z","M0.27,0.5C0.24,0.15,0.14,0,0,0C-0.16,0,-0.3,0.45,-0.3,1C-0.3,1.55,-0.16,2,0,2C0.18,2,0.3,1.75,0.3,1.35V1H0.02V1.25H0.145C0.145,1.55,0.08,1.72,0,1.72C-0.08,1.72,-0.145,1.4,-0.145,1C-0.145,0.6,-0.08,0.28,0,0.28C0.06,0.28,0.11,0.37,0.13,0.55Z","M-0.3,0H0.3V0.3H0.075V2H-0.075V0.3H-0.3Z"]},"legend":null},"color":{"field":"n","type":"nominal","scale":{"domain":["A","C","G","T"],"range":["#9b1b1f","#2f4f9f","#f4a52c","#2b8c3f"]},"legend":null},"size":{"field":"b","type":"quantitative","scale":{"type":"pow","exponent":2,"domain":[0,2],"range":[0,2704]},"legend":null}}},
 {"data":{"name":"LC2"},"mark":{"type":"bar","width":7},"encoding":{"x":{"field":"p","type":"quantitative","axis":null},"y":{"field":"b","type":"quantitative","stack":"zero"},"order":{"field":"b","type":"quantitative","sort":"ascending"},"color":{"field":"n","type":"nominal","legend":null},"opacity":{"condition":{"test":"datum.b < 0.5","value":0.6},"value":0}}},
 {"data":{"values":[{}]},"mark":{"type":"rule","color":"#888","strokeWidth":1},"encoding":{"x":{"datum":0.5,"axis":null},"x2":{"datum":6.5},"y":{"datum":0}}},
 {"data":{"values":[{}]},"mark":{"type":"text","fontSize":8,"color":"#444"},"encoding":{"x":{"datum":6.12,"axis":null},"y":{"datum":1.8},"text":{"value":"6/6"}}}
]},
{"width":100,"height":1,"mark":"point","data":{"values":[]}},
{"width":99,"height":52,"layer":[
 {"data":{"name":"LD1"},"mark":{"type":"point","filled":true,"opacity":1,"strokeWidth":0},"encoding":{"x":{"field":"p","type":"quantitative","scale":{"domain":[-2.929,6.5],"nice":false,"zero":false},"axis":null},"y":{"field":"b","type":"quantitative","stack":"zero","scale":{"domain":[0,2],"nice":false},"axis":{"title":"bits","values":[0,1,2],"tickCount":10,"format":"d","labelOverlap":false,"offset":-36,"tickSize":7,"labelPadding":2,"domainColor":"#888","domainWidth":1,"tickColor":"#888","tickWidth":1,"labelFontSize":11.5,"labelColor":"#333","titleFontSize":11,"titleFontWeight":"normal","titleColor":"#333","titlePadding":1}},"order":{"field":"b","type":"quantitative","sort":"ascending"},"shape":{"field":"n","type":"nominal","scale":{"domain":["A","C","G","T"],"range":["M-0.075,0H0.075L0.3,2H0.14L0.09,1.55H-0.09L-0.14,2H-0.3ZM-0.055,1.25L0.055,1.25L0,0.76Z","M0.27,0.5C0.24,0.15,0.14,0,0,0C-0.16,0,-0.3,0.45,-0.3,1C-0.3,1.55,-0.16,2,0,2C0.14,2,0.24,1.85,0.27,1.5L0.13,1.45C0.11,1.63,0.06,1.72,0,1.72C-0.08,1.72,-0.145,1.4,-0.145,1C-0.145,0.6,-0.08,0.28,0,0.28C0.06,0.28,0.11,0.37,0.13,0.55Z","M0.27,0.5C0.24,0.15,0.14,0,0,0C-0.16,0,-0.3,0.45,-0.3,1C-0.3,1.55,-0.16,2,0,2C0.18,2,0.3,1.75,0.3,1.35V1H0.02V1.25H0.145C0.145,1.55,0.08,1.72,0,1.72C-0.08,1.72,-0.145,1.4,-0.145,1C-0.145,0.6,-0.08,0.28,0,0.28C0.06,0.28,0.11,0.37,0.13,0.55Z","M-0.3,0H0.3V0.3H0.075V2H-0.075V0.3H-0.3Z"]},"legend":null},"color":{"field":"n","type":"nominal","scale":{"domain":["A","C","G","T"],"range":["#9b1b1f","#2f4f9f","#f4a52c","#2b8c3f"]},"legend":null},"size":{"field":"b","type":"quantitative","scale":{"type":"pow","exponent":2,"domain":[0,2],"range":[0,2704]},"legend":null}}},
 {"data":{"name":"LD1"},"mark":{"type":"bar","width":7},"encoding":{"x":{"field":"p","type":"quantitative","axis":null},"y":{"field":"b","type":"quantitative","stack":"zero"},"order":{"field":"b","type":"quantitative","sort":"ascending"},"color":{"field":"n","type":"nominal","legend":null},"opacity":{"condition":{"test":"datum.b < 0.5","value":0.6},"value":0}}},
 {"data":{"values":[{}]},"mark":{"type":"rule","color":"#888","strokeWidth":1},"encoding":{"x":{"datum":0.5,"axis":null},"x2":{"datum":6.5},"y":{"datum":0}}},
 {"data":{"values":[{}]},"mark":{"type":"text","fontSize":8,"color":"#444"},"encoding":{"x":{"datum":5.55,"axis":null},"y":{"datum":1.8},"text":{"value":"11/14"}}}
]},
{"width":42,"height":1,"mark":"point","data":{"values":[]}},
{"width":64,"height":52,"layer":[
 {"data":{"name":"LD2"},"mark":{"type":"point","filled":true,"opacity":1,"strokeWidth":0},"encoding":{"x":{"field":"p","type":"quantitative","scale":{"domain":[0.5,6.5],"nice":false,"zero":false},"axis":null},"y":{"field":"b","type":"quantitative","stack":"zero","scale":{"domain":[0,2],"nice":false},"axis":{"title":"bits","values":[0,1,2],"tickCount":10,"format":"d","labelOverlap":false,"tickSize":7,"labelPadding":2,"domainColor":"#888","domainWidth":1,"tickColor":"#888","tickWidth":1,"labelFontSize":11.5,"labelColor":"#333","titleFontSize":11,"titleFontWeight":"normal","titleColor":"#333","titlePadding":1}},"order":{"field":"b","type":"quantitative","sort":"ascending"},"shape":{"field":"n","type":"nominal","scale":{"domain":["A","C","G","T"],"range":["M-0.075,0H0.075L0.3,2H0.14L0.09,1.55H-0.09L-0.14,2H-0.3ZM-0.055,1.25L0.055,1.25L0,0.76Z","M0.27,0.5C0.24,0.15,0.14,0,0,0C-0.16,0,-0.3,0.45,-0.3,1C-0.3,1.55,-0.16,2,0,2C0.14,2,0.24,1.85,0.27,1.5L0.13,1.45C0.11,1.63,0.06,1.72,0,1.72C-0.08,1.72,-0.145,1.4,-0.145,1C-0.145,0.6,-0.08,0.28,0,0.28C0.06,0.28,0.11,0.37,0.13,0.55Z","M0.27,0.5C0.24,0.15,0.14,0,0,0C-0.16,0,-0.3,0.45,-0.3,1C-0.3,1.55,-0.16,2,0,2C0.18,2,0.3,1.75,0.3,1.35V1H0.02V1.25H0.145C0.145,1.55,0.08,1.72,0,1.72C-0.08,1.72,-0.145,1.4,-0.145,1C-0.145,0.6,-0.08,0.28,0,0.28C0.06,0.28,0.11,0.37,0.13,0.55Z","M-0.3,0H0.3V0.3H0.075V2H-0.075V0.3H-0.3Z"]},"legend":null},"color":{"field":"n","type":"nominal","scale":{"domain":["A","C","G","T"],"range":["#9b1b1f","#2f4f9f","#f4a52c","#2b8c3f"]},"legend":null},"size":{"field":"b","type":"quantitative","scale":{"type":"pow","exponent":2,"domain":[0,2],"range":[0,2704]},"legend":null}}},
 {"data":{"name":"LD2"},"mark":{"type":"bar","width":7},"encoding":{"x":{"field":"p","type":"quantitative","axis":null},"y":{"field":"b","type":"quantitative","stack":"zero"},"order":{"field":"b","type":"quantitative","sort":"ascending"},"color":{"field":"n","type":"nominal","legend":null},"opacity":{"condition":{"test":"datum.b < 0.5","value":0.6},"value":0}}},
 {"data":{"values":[{}]},"mark":{"type":"rule","color":"#888","strokeWidth":1},"encoding":{"x":{"datum":0.5,"axis":null},"x2":{"datum":6.5},"y":{"datum":0}}},
 {"data":{"values":[{}]},"mark":{"type":"text","fontSize":8,"color":"#444","align":"right"},"encoding":{"x":{"datum":6.3,"axis":null},"y":{"datum":1.8},"text":{"value":"10/10"}}}
]},
{"width":169,"height":169,"layer":[
 {"data":{"values":[{}]},"mark":{"type":"rect","color":"#f2f2f2"},"encoding":{"x":{"datum":0,"type":"quantitative","scale":{"domain":[0,100],"nice":false,"zero":false},"axis":{"title":"WRKY50 DBD","values":[0,20,40,60,80,100],"tickCount":10,"labelOverlap":false,"labelPadding":5}},"x2":{"datum":57.5},"y":{"datum":0,"type":"quantitative","scale":{"domain":[0,100],"nice":false,"zero":false},"axis":{"title":"WRKY33 nDBD","values":[0,20,40,60,80,100],"tickCount":10,"labelOverlap":false}},"y2":{"datum":42.9}}},
 {"data":{"values":[{}]},"mark":{"type":"rule","color":"#777","strokeWidth":1.3},"encoding":{"x":{"datum":57.5},"y":{"datum":0},"y2":{"datum":100}}},
 {"data":{"values":[{}]},"mark":{"type":"rule","color":"#777","strokeWidth":1.3},"encoding":{"y":{"datum":42.9},"x":{"datum":0},"x2":{"datum":100}}},
 {"data":{"name":"Ck"},"mark":{"type":"point","shape":"circle","size":30,"filled":true,"fill":"white","stroke":"#111","strokeWidth":1.3,"opacity":1},"encoding":{"x":{"field":"x","type":"quantitative"},"y":{"field":"y","type":"quantitative"}}},
 {"data":{"name":"Cc"},"mark":{"type":"point","shape":"circle","size":30,"filled":true,"strokeWidth":1.3,"opacity":1},"encoding":{"x":{"field":"x","type":"quantitative"},"y":{"field":"y","type":"quantitative"},"stroke":{"field":"g","type":"nominal","scale":{"domain":["b","x","y","n"],"range":["#3c82c8","#2a9148","#f4a340","#999999"]},"legend":null},"fill":{"condition":{"test":"datum.s","field":"g","type":"nominal","scale":{"domain":["b","x","y","n"],"range":["#3c82c8","#2a9148","#f4a340","#999999"]},"legend":null},"value":"white"}}},
 {"data":{"values":[{}]},"mark":{"type":"text","fontSize":13,"fontWeight":"bold","color":"#111"},"encoding":{"x":{"datum":-27},"y":{"datum":149.7},"text":{"value":"C"}}},
 {"data":{"values":[{}]},"mark":{"type":"text","fontSize":11.5,"color":"#333","align":"left"},"encoding":{"x":{"datum":-30.2},"y":{"datum":123.7},"text":{"value":"rel."}}},
 {"data":{"values":[{}]},"mark":{"type":"text","fontSize":11.5,"color":"#333","align":"left"},"encoding":{"x":{"datum":-30.2},"y":{"datum":116},"text":{"value":"abs. [%]"}}},
 {"data":{"values":[{}]},"mark":{"type":"text","fontSize":11.5,"color":"#333","align":"left"},"encoding":{"x":{"datum":112.4},"y":{"datum":-2.4},"text":{"value":"rel. abs."}}},
 {"data":{"values":[{}]},"mark":{"type":"text","fontSize":11.5,"color":"#333","align":"left"},"encoding":{"x":{"datum":112.4},"y":{"datum":-9.5},"text":{"value":"[%]"}}}
]},
{"width":39,"height":1,"mark":"point","data":{"values":[]}},
{"width":64,"height":151,"layer":[
 {"data":{"name":"LC3"},"mark":{"type":"point","filled":true,"opacity":1,"strokeWidth":0},"encoding":{"x":{"field":"p","type":"quantitative","scale":{"domain":[0.5,6.5],"nice":false,"zero":false},"axis":null},"y":{"field":"b","type":"quantitative","stack":"zero","scale":{"domain":[0,5.8077],"nice":false},"axis":{"title":"bits","values":[0,1,2],"tickCount":10,"format":"d","labelOverlap":false,"domain":false,"titleY":125,"tickSize":7,"labelPadding":2,"tickColor":"#888","tickWidth":1,"labelFontSize":11.5,"labelColor":"#333","titleFontSize":11,"titleFontWeight":"normal","titleColor":"#333","titlePadding":1}},"order":{"field":"b","type":"quantitative","sort":"ascending"},"shape":{"field":"n","type":"nominal","scale":{"domain":["A","C","G","T"],"range":["M-0.075,0H0.075L0.3,2H0.14L0.09,1.55H-0.09L-0.14,2H-0.3ZM-0.055,1.25L0.055,1.25L0,0.76Z","M0.27,0.5C0.24,0.15,0.14,0,0,0C-0.16,0,-0.3,0.45,-0.3,1C-0.3,1.55,-0.16,2,0,2C0.14,2,0.24,1.85,0.27,1.5L0.13,1.45C0.11,1.63,0.06,1.72,0,1.72C-0.08,1.72,-0.145,1.4,-0.145,1C-0.145,0.6,-0.08,0.28,0,0.28C0.06,0.28,0.11,0.37,0.13,0.55Z","M0.27,0.5C0.24,0.15,0.14,0,0,0C-0.16,0,-0.3,0.45,-0.3,1C-0.3,1.55,-0.16,2,0,2C0.18,2,0.3,1.75,0.3,1.35V1H0.02V1.25H0.145C0.145,1.55,0.08,1.72,0,1.72C-0.08,1.72,-0.145,1.4,-0.145,1C-0.145,0.6,-0.08,0.28,0,0.28C0.06,0.28,0.11,0.37,0.13,0.55Z","M-0.3,0H0.3V0.3H0.075V2H-0.075V0.3H-0.3Z"]},"legend":null},"color":{"field":"n","type":"nominal","scale":{"domain":["A","C","G","T"],"range":["#9b1b1f","#2f4f9f","#f4a52c","#2b8c3f"]},"legend":null},"size":{"field":"b","type":"quantitative","scale":{"type":"pow","exponent":2,"domain":[0,2],"range":[0,2704]},"legend":null}}},
 {"data":{"name":"LC3"},"mark":{"type":"bar","width":7},"encoding":{"x":{"field":"p","type":"quantitative","axis":null},"y":{"field":"b","type":"quantitative","stack":"zero"},"order":{"field":"b","type":"quantitative","sort":"ascending"},"color":{"field":"n","type":"nominal","legend":null},"opacity":{"condition":{"test":"datum.b < 0.5","value":0.6},"value":0}}},
 {"data":{"values":[{}]},"mark":{"type":"rule","color":"#888","strokeWidth":1},"encoding":{"x":{"datum":0.5,"axis":null},"x2":{"datum":6.5},"y":{"datum":0}}},
 {"data":{"values":[{}]},"mark":{"type":"rule","color":"#888","strokeWidth":1},"encoding":{"x":{"datum":0.5,"axis":null},"y":{"datum":0},"y2":{"datum":2}}},
 {"data":{"values":[{}]},"mark":{"type":"text","fontSize":8,"color":"#444"},"encoding":{"x":{"datum":5.75,"axis":null},"y":{"datum":1.82},"text":{"value":"8/10"}}}
]},
{"width":100,"height":1,"mark":"point","data":{"values":[]}},
{"width":170,"height":169,"layer":[
 {"data":{"values":[{}]},"mark":{"type":"rect","color":"#f2f2f2"},"encoding":{"x":{"datum":0,"type":"quantitative","scale":{"domain":[0,100],"nice":false,"zero":false},"axis":{"title":"WRKY50 DBD","values":[0,20,40,60,80,100],"tickCount":10,"labelOverlap":false,"labelPadding":5}},"x2":{"datum":57.1},"y":{"datum":0,"type":"quantitative","scale":{"domain":[0,100],"nice":false,"zero":false},"axis":{"title":"WRKY33 cDBD","values":[0,20,40,60,80,100],"tickCount":10,"labelOverlap":false}},"y2":{"datum":81.6}}},
 {"data":{"values":[{}]},"mark":{"type":"rule","color":"#777","strokeWidth":1.3},"encoding":{"x":{"datum":57.1},"y":{"datum":0},"y2":{"datum":100}}},
 {"data":{"values":[{}]},"mark":{"type":"rule","color":"#777","strokeWidth":1.3},"encoding":{"y":{"datum":81.6},"x":{"datum":0},"x2":{"datum":100}}},
 {"data":{"name":"Dk"},"mark":{"type":"point","shape":"circle","size":30,"filled":true,"fill":"white","stroke":"#111","strokeWidth":1.3,"opacity":1},"encoding":{"x":{"field":"x","type":"quantitative"},"y":{"field":"y","type":"quantitative"}}},
 {"data":{"name":"Dc"},"mark":{"type":"point","shape":"circle","size":30,"filled":true,"strokeWidth":1.3,"opacity":1},"encoding":{"x":{"field":"x","type":"quantitative"},"y":{"field":"y","type":"quantitative"},"stroke":{"field":"g","type":"nominal","scale":{"domain":["b","x","y","n"],"range":["#3c82c8","#2a9148","#f4a340","#999999"]},"legend":null},"fill":{"condition":{"test":"datum.s","field":"g","type":"nominal","scale":{"domain":["b","x","y","n"],"range":["#3c82c8","#2a9148","#f4a340","#999999"]},"legend":null},"value":"white"}}},
 {"data":{"values":[{}]},"mark":{"type":"text","fontSize":13,"fontWeight":"bold","color":"#111"},"encoding":{"x":{"datum":-28.2},"y":{"datum":149.7},"text":{"value":"D"}}},
 {"data":{"values":[{}]},"mark":{"type":"text","fontSize":11.5,"color":"#333","align":"left"},"encoding":{"x":{"datum":-32.9},"y":{"datum":123.7},"text":{"value":"rel."}}},
 {"data":{"values":[{}]},"mark":{"type":"text","fontSize":11.5,"color":"#333","align":"left"},"encoding":{"x":{"datum":-32.9},"y":{"datum":116},"text":{"value":"abs. [%]"}}},
 {"data":{"values":[{}]},"mark":{"type":"text","fontSize":11.5,"color":"#333","align":"left"},"encoding":{"x":{"datum":112.4},"y":{"datum":-2.4},"text":{"value":"rel. abs."}}},
 {"data":{"values":[{}]},"mark":{"type":"text","fontSize":11.5,"color":"#333","align":"left"},"encoding":{"x":{"datum":112.4},"y":{"datum":-9.5},"text":{"value":"[%]"}}}
]},
{"width":42,"height":1,"mark":"point","data":{"values":[]}},
{"width":64,"height":151,"layer":[
 {"data":{"name":"LD3"},"mark":{"type":"point","filled":true,"opacity":1,"strokeWidth":0},"encoding":{"x":{"field":"p","type":"quantitative","scale":{"domain":[0.5,6.5],"nice":false,"zero":false},"axis":null},"y":{"field":"b","type":"quantitative","stack":"zero","scale":{"domain":[0,5.8077],"nice":false},"axis":{"title":"bits","values":[0,1,2],"tickCount":10,"format":"d","labelOverlap":false,"domain":false,"titleY":125,"tickSize":7,"labelPadding":2,"tickColor":"#888","tickWidth":1,"labelFontSize":11.5,"labelColor":"#333","titleFontSize":11,"titleFontWeight":"normal","titleColor":"#333","titlePadding":1}},"order":{"field":"b","type":"quantitative","sort":"ascending"},"shape":{"field":"n","type":"nominal","scale":{"domain":["A","C","G","T"],"range":["M-0.075,0H0.075L0.3,2H0.14L0.09,1.55H-0.09L-0.14,2H-0.3ZM-0.055,1.25L0.055,1.25L0,0.76Z","M0.27,0.5C0.24,0.15,0.14,0,0,0C-0.16,0,-0.3,0.45,-0.3,1C-0.3,1.55,-0.16,2,0,2C0.14,2,0.24,1.85,0.27,1.5L0.13,1.45C0.11,1.63,0.06,1.72,0,1.72C-0.08,1.72,-0.145,1.4,-0.145,1C-0.145,0.6,-0.08,0.28,0,0.28C0.06,0.28,0.11,0.37,0.13,0.55Z","M0.27,0.5C0.24,0.15,0.14,0,0,0C-0.16,0,-0.3,0.45,-0.3,1C-0.3,1.55,-0.16,2,0,2C0.18,2,0.3,1.75,0.3,1.35V1H0.02V1.25H0.145C0.145,1.55,0.08,1.72,0,1.72C-0.08,1.72,-0.145,1.4,-0.145,1C-0.145,0.6,-0.08,0.28,0,0.28C0.06,0.28,0.11,0.37,0.13,0.55Z","M-0.3,0H0.3V0.3H0.075V2H-0.075V0.3H-0.3Z"]},"legend":null},"color":{"field":"n","type":"nominal","scale":{"domain":["A","C","G","T"],"range":["#9b1b1f","#2f4f9f","#f4a52c","#2b8c3f"]},"legend":null},"size":{"field":"b","type":"quantitative","scale":{"type":"pow","exponent":2,"domain":[0,2],"range":[0,2704]},"legend":null}}},
 {"data":{"name":"LD3"},"mark":{"type":"bar","width":7},"encoding":{"x":{"field":"p","type":"quantitative","axis":null},"y":{"field":"b","type":"quantitative","stack":"zero"},"order":{"field":"b","type":"quantitative","sort":"ascending"},"color":{"field":"n","type":"nominal","legend":null},"opacity":{"condition":{"test":"datum.b < 0.5","value":0.6},"value":0}}},
 {"data":{"values":[{}]},"mark":{"type":"rule","color":"#888","strokeWidth":1},"encoding":{"x":{"datum":0.5,"axis":null},"x2":{"datum":6.5},"y":{"datum":0}}},
 {"data":{"values":[{}]},"mark":{"type":"rule","color":"#888","strokeWidth":1},"encoding":{"x":{"datum":0.5,"axis":null},"y":{"datum":0},"y2":{"datum":2}}},
 {"data":{"values":[{}]},"mark":{"type":"text","fontSize":8,"color":"#444"},"encoding":{"x":{"datum":5.84,"axis":null},"y":{"datum":1.82},"text":{"value":"4/6"}}}
]}
]
}
